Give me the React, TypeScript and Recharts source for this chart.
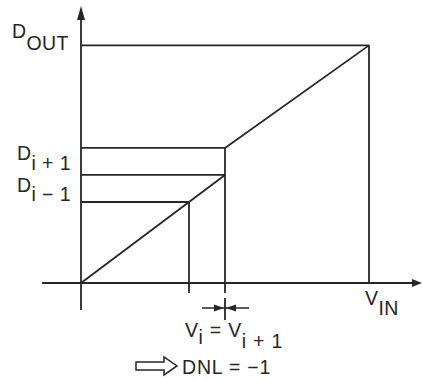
import React from 'react';
import { LineChart, Line, XAxis, YAxis, ReferenceLine, ReferenceDot } from 'recharts';

// Transfer characteristic of an ADC with a missing code (DNL = -1)
// v = analog input (arbitrary units), d = digital output code
const lowerRamp = [
  { v: 0, d: 0 },
  { v: 3, d: 3 },
  { v: 4, d: 4 },
];
const upperRamp = [
  { v: 4, d: 5 },
  { v: 8, d: 8.8 },
];

// output levels: D(i-1), D(i), D(i+1), D_OUT
const outputLevels = [3, 4, 5, 8.8];
// input where each output level is reached
const levelInputs = [3, 4, 4, 8];
// drop lines: input value and the level they rise to
const dropInputs = [3, 4, 8];
const dropTops = [3, 5, 8.8];

const INK = '#262626';
const FONT = '"Liberation Sans", Arial, sans-serif';
const FS = 19.5;
const W = 423;
const H = 381;

const LabelText = ({ cx, cy, dx, dy, main, sub, subDy = 11 }: any) => (
  <text x={cx + dx} y={cy + dy} fill={INK} fontSize={FS} fontFamily={FONT} letterSpacing={0.4}>
    {main}
    <tspan dy={subDy}>{sub}</tspan>
  </text>
);

const App: React.FC = () => {
  return (
    <div style={{ position: 'absolute', left: 0, top: 0, background: '#fff' }}>
      <LineChart width={W} height={H} margin={{ top: 0, right: 0, bottom: 0, left: 0 }}>
        <XAxis type="number" dataKey="v" domain={[-2.25, 9.5]} hide allowDataOverflow />
        <YAxis type="number" dataKey="d" domain={[-3.63, 10.48]} hide allowDataOverflow />

        {/* axes */}
        <ReferenceLine segment={[{ x: -1.08, y: 0 }, { x: 9.3, y: 0 }]} stroke={INK} strokeWidth={1.8} />
        <ReferenceLine segment={[{ x: 0, y: -1.0 }, { x: 0, y: 10.0 }]} stroke={INK} strokeWidth={1.8} />
        <ReferenceDot
          x={9.47}
          y={0}
          shape={(p: any) => (
            <polygon points={`${p.cx},${p.cy} ${p.cx - 10},${p.cy - 4} ${p.cx - 10},${p.cy + 4}`} fill={INK} />
          )}
        />
        <ReferenceDot
          x={0}
          y={10.26}
          shape={(p: any) => (
            <polygon points={`${p.cx},${p.cy} ${p.cx - 4},${p.cy + 14} ${p.cx + 4},${p.cy + 14}`} fill={INK} />
          )}
        />

        {/* horizontal guides from the D axis */}
        {outputLevels.map((lvl, i) => (
          <ReferenceLine
            key={'h' + i}
            segment={[{ x: 0, y: lvl }, { x: levelInputs[i], y: lvl }]}
            stroke={INK}
            strokeWidth={1.8}
          />
        ))}

        {/* vertical drop lines */}
        {dropInputs.map((v, i) => (
          <ReferenceLine
            key={'v' + i}
            segment={[{ x: v, y: v === 8 ? 0 : -0.37 }, { x: v, y: dropTops[i] }]}
            stroke={INK}
            strokeWidth={1.8}
          />
        ))}

        <Line data={lowerRamp} dataKey="d" stroke={INK} strokeWidth={1.8} dot={false} activeDot={false} isAnimationActive={false} />
        <Line data={upperRamp} dataKey="d" stroke={INK} strokeWidth={1.8} dot={false} activeDot={false} isAnimationActive={false} />

        {/* axis labels */}
        <ReferenceDot x={0} y={8.8} shape={(p: any) => <LabelText {...p} dx={-69} dy={-7} main="D" sub="OUT" subDy={12} />} />
        <ReferenceDot x={0} y={5} shape={(p: any) => <LabelText {...p} dx={-64} dy={12} main="D" sub="i + 1" subDy={10} />} />
        <ReferenceDot x={0} y={3} shape={(p: any) => <LabelText {...p} dx={-64} dy={-10} main="D" sub="i − 1" subDy={9} />} />
        <ReferenceDot x={8} y={0} shape={(p: any) => <LabelText {...p} dx={-4} dy={22} main="V" sub="IN" subDy={10} />} />

        {/* missing-code annotation under V_i */}
        <ReferenceDot
          x={4}
          y={0}
          shape={(p: any) => {
            const { cx, cy } = p;
            const ay = cy + 25;
            return (
              <g>
                <line x1={cx} y1={cy + 15} x2={cx} y2={cy + 37} stroke={INK} strokeWidth={1.8} />
                <line x1={cx - 23} y1={ay} x2={cx + 24} y2={ay} stroke={INK} strokeWidth={1.6} />
                <polygon points={`${cx - 1},${ay} ${cx - 11},${ay - 3.5} ${cx - 11},${ay + 3.5}`} fill={INK} />
                <polygon points={`${cx + 1},${ay} ${cx + 11},${ay - 3.5} ${cx + 11},${ay + 3.5}`} fill={INK} />
                <text x={cx - 40} y={cy + 54} fill={INK} fontSize={FS} fontFamily={FONT} letterSpacing={0.8}>
                  V<tspan dy={7}>i</tspan>
                  <tspan dy={-7}>{' = V'}</tspan>
                  <tspan dy={11}>{'i + 1'}</tspan>
                </text>
                <path
                  d={`M${cx - 89},${cy + 79} L${cx - 61},${cy + 79} L${cx - 61},${cy + 74} L${cx - 48},${cy + 83} L${cx - 61},${cy + 92} L${cx - 61},${cy + 87} L${cx - 89},${cy + 87} Z`}
                  fill="#fff"
                  stroke={INK}
                  strokeWidth={1.5}
                />
                <text x={cx - 43} y={cy + 91} fill={INK} fontSize={FS} fontFamily={FONT} letterSpacing={0.8}>
                  {'DNL = −1'}
                </text>
              </g>
            );
          }}
        />
      </LineChart>
    </div>
  );
};

export default App;
